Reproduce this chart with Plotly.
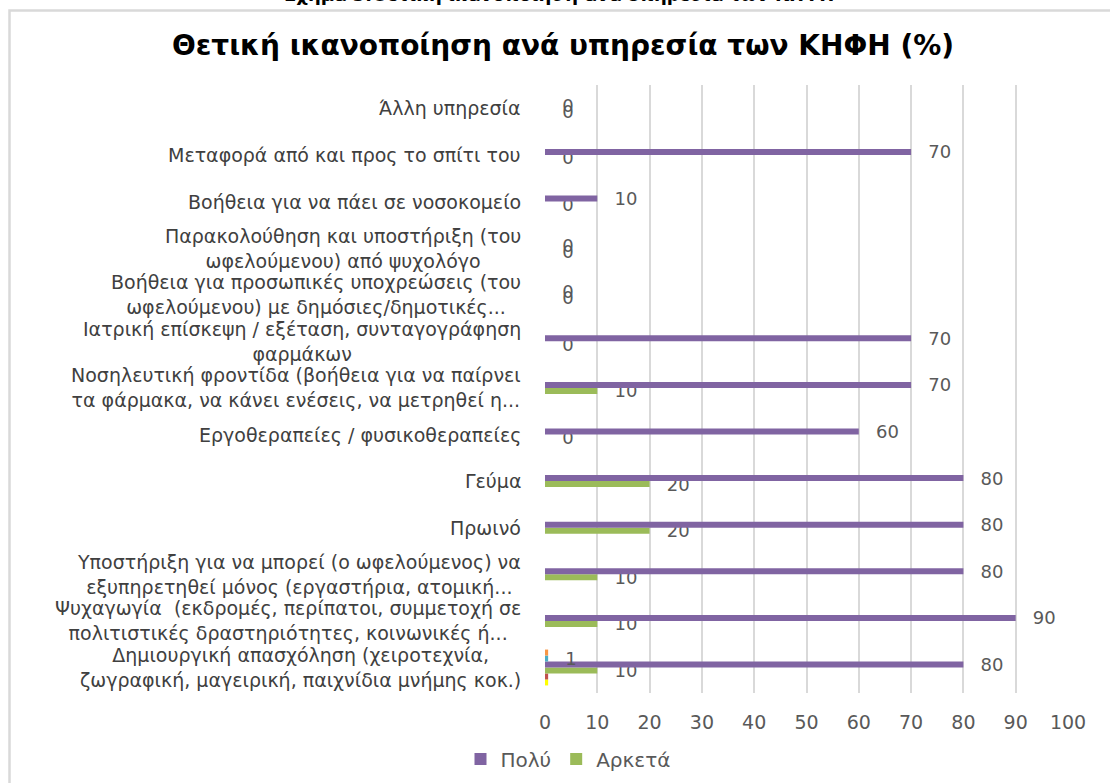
import plotly.graph_objects as go

# Categories listed bottom -> top
categories = [
    "Δημιουργική απασχόληση (χειροτεχνία,<br>ζωγραφική, μαγειρική, παιχνίδια μνήμης κοκ.)",
    "Ψυχαγωγία  (εκδρομές, περίπατοι, συμμετοχή σε<br>πολιτιστικές δραστηριότητες, κοινωνικές ή...",
    "Υποστήριξη για να μπορεί (ο ωφελούμενος) να<br>εξυπηρετηθεί μόνος (εργαστήρια, ατομική...",
    "Πρωινό",
    "Γεύμα",
    "Εργοθεραπείες / φυσικοθεραπείες",
    "Νοσηλευτική φροντίδα (βοήθεια για να παίρνει<br>τα φάρμακα, να κάνει ενέσεις, να μετρηθεί η...",
    "Ιατρική επίσκεψη / εξέταση, συνταγογράφηση<br>φαρμάκων",
    "Βοήθεια για προσωπικές υποχρεώσεις (του<br>ωφελούμενου) με δημόσιες/δημοτικές...",
    "Παρακολούθηση και υποστήριξη (του<br>ωφελούμενου) από ψυχολόγο",
    "Βοήθεια για να πάει σε νοσοκομείο",
    "Μεταφορά από και προς το σπίτι του",
    "Άλλη υπηρεσία",
]
poly = [80, 90, 80, 80, 80, 60, 70, 70, 0, 0, 10, 70, 0]
arketa = [10, 10, 10, 20, 20, 0, 10, 0, 0, 0, 0, 0, 0]
# small unnamed series visible only in the bottom category
extra_orange = [0.6] + [None] * 12
extra_cyan = [0.6] + [None] * 12
extra_red = [0.6] + [None] * 12
extra_yellow = [0.6] + [None] * 12
cyan_label = ["1"] + [""] * 12

x_ticks = [0, 10, 20, 30, 40, 50, 60, 70, 80, 90, 100]

title_text = "Θετική ικανοποίηση ανά υπηρεσία των ΚΗΦΗ (%)"
caption_text = "Σχήμα 5:Θετική ικανοποίηση ανά υπηρεσία των ΚΗΦΗ"

PURPLE = "#8064A2"
GREEN = "#9BBB59"
LABEL_GRAY = "#595959"
FONT = "DejaVu Sans"
pad = "\u00a0\u00a0\u00a0"

fig = go.Figure()

def add_bar(vals, color, name, show, text=None):
    fig.add_trace(go.Bar(
        y=categories, x=vals, orientation="h", name=name,
        marker=dict(color=color, line=dict(width=0)),
        showlegend=show,
        text=text, textposition="outside" if text is not None else "none",
        textfont=dict(family=FONT, size=18, color=LABEL_GRAY),
        constraintext="none", cliponaxis=False,
    ))

# order: bottom of group first
add_bar(extra_yellow, "#FFFF00", "s6", False)
add_bar(extra_red, "#C0504D", "s5", False)
add_bar(arketa, GREEN, "Αρκετά", True, [pad + str(v) for v in arketa])
add_bar(poly, PURPLE, "Πολύ", True, [pad + str(v) for v in poly])
add_bar(extra_cyan, "#4BACC6", "s4", False, [pad + t for t in cyan_label])
add_bar(extra_orange, "#F79646", "s3", False)

# category labels as centered multi-line annotations
for c in categories:
    fig.add_annotation(
        x=0, xref="paper", y=c, yref="y", text=c, showarrow=False,
        xanchor="right", yanchor="middle", align="center", xshift=-22,
        font=dict(family=FONT, size=19, color="#404040"),
    )

# caption (clipped at the top of the page)
fig.add_annotation(
    x=(559 - 545) / 523, xref="paper", y=1 + (85 - 7) / 608, yref="paper",
    text="<b>" + caption_text + "</b>", showarrow=False,
    xanchor="center", yanchor="bottom",
    font=dict(family=FONT, size=18, color="#000000"),
)

# outer chart frame
fig.add_shape(
    type="rect", xref="paper", yref="paper",
    x0=(9.5 - 545) / 523, x1=(1125 - 545) / 523,
    y0=(693 - 800) / 608, y1=1 + (85 - 10.5) / 608,
    line=dict(color="#D9D9D9", width=2.5), fillcolor="rgba(0,0,0,0)",
    layer="below",
)

fig.update_layout(
    width=1110, height=783,
    margin=dict(l=545, r=42, t=85, b=90, autoexpand=False),
    paper_bgcolor="white", plot_bgcolor="white",
    barmode="group", bargap=0.23, bargroupgap=0,
    title=dict(
        text="<b>" + title_text + "</b>",
        x=(563 - 545) / 523, xref="paper", xanchor="center",
        y=1 - 45 / 783, yanchor="middle",
        font=dict(family=FONT, size=28, color="#000000"),
    ),
    xaxis=dict(
        range=[0, 100], tickvals=x_ticks, showgrid=True,
        gridcolor="#D9D9D9", gridwidth=2, zeroline=False,
        showline=False, ticks="", ticklabelstandoff=16,
        tickfont=dict(family=FONT, size=19, color=LABEL_GRAY),
    ),
    yaxis=dict(
        type="category", showticklabels=False, showgrid=False,
        zeroline=False, showline=False, ticks="",
    ),
    legend=dict(
        orientation="h", x=(568 - 545) / 523, xanchor="center",
        y=(693 - 759) / 608, yanchor="middle",
        traceorder="reversed",
        font=dict(family=FONT, size=20, color=LABEL_GRAY),
    ),
)

fig.write_html(
    "out.html",
    config={"displayModeBar": False},
    post_script="document.body.style.margin='0px';document.body.style.overflow='hidden';",
)
